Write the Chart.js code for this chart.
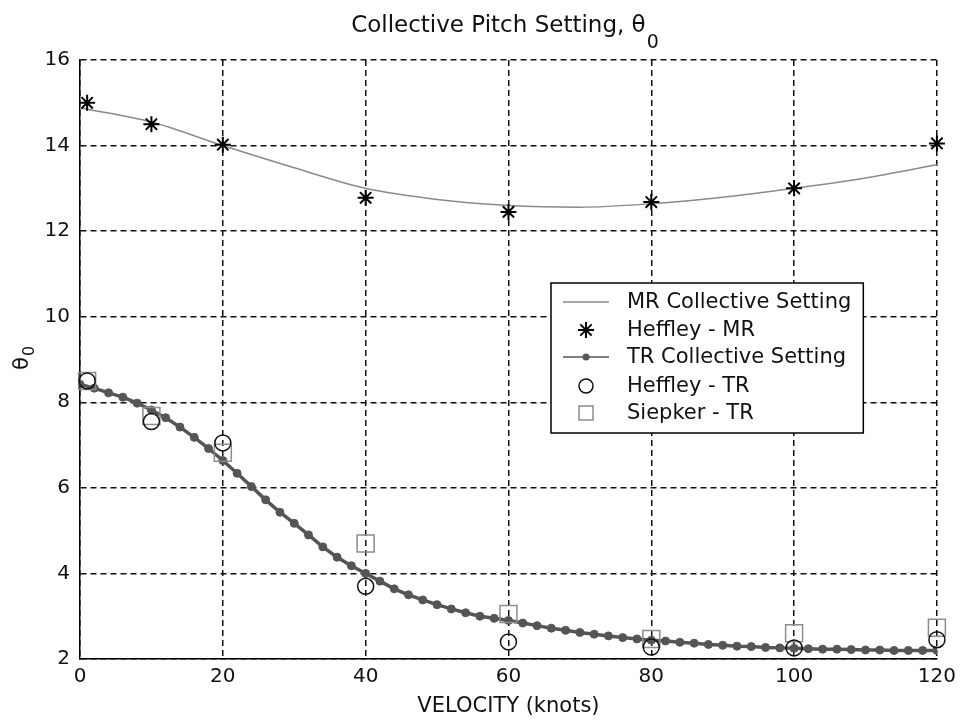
<!DOCTYPE html>
<html>
<head>
<meta charset="utf-8">
<script src="https://cdn.jsdelivr.net/npm/chart.js"></script>
<style>
  html, body { margin: 0; padding: 0; background: #fff; }
  canvas { display: block; }
</style>
</head>
<body>
<canvas id="chart" width="962" height="722"></canvas>
<script>
// main rotor collective curve (thin line)
const mrCurveX = [0, 10, 20, 30, 40, 50, 60, 70, 80, 90, 100, 110, 120];
const mrCurveY = [14.88, 14.55, 14.0, 13.48, 13.0, 12.74, 12.6, 12.56, 12.64, 12.79, 13.0, 13.24, 13.55];

// Heffley main rotor points (stars)
const heffMrX = [1, 10, 20, 40, 60, 80, 100, 120];
const heffMrY = [15.0, 14.5, 14.02, 12.78, 12.45, 12.68, 13.0, 14.05];

// tail rotor collective curve (beaded line)
const trCurveX = [0, 2, 4, 6, 8, 10, 12, 14, 16, 18, 20, 22, 24, 26, 28, 30, 32, 34, 36, 38, 40,
  42, 44, 46, 48, 50, 52, 54, 56, 58, 60, 62, 64, 66, 68, 70, 72, 74, 76, 78, 80,
  82, 84, 86, 88, 90, 92, 94, 96, 98, 100, 102, 104, 106, 108, 110, 112, 114, 116, 118, 120];
const trCurveY = [8.42, 8.33, 8.22, 8.12, 7.98, 7.82, 7.64, 7.42, 7.18, 6.92, 6.64, 6.34, 6.03, 5.72, 5.43, 5.17, 4.9, 4.62, 4.38, 4.18, 4.0,
  3.82, 3.64, 3.5, 3.38, 3.27, 3.17, 3.08, 3.0, 2.95, 2.9, 2.84, 2.78, 2.72, 2.67, 2.62, 2.58, 2.54, 2.5, 2.47, 2.44,
  2.42, 2.39, 2.37, 2.34, 2.32, 2.3, 2.29, 2.27, 2.26, 2.25, 2.24, 2.23, 2.23, 2.22, 2.21, 2.21, 2.2, 2.2, 2.2, 2.2];

// Heffley tail rotor (circles) and Siepker tail rotor (squares)
const heffTrX = [1, 10, 20, 40, 60, 80, 100, 120];
const heffTrY = [8.5, 7.55, 7.05, 3.7, 2.4, 2.28, 2.26, 2.45];
const siepTrX = [1, 10, 20, 40, 60, 80, 100, 120];
const siepTrY = [8.5, 7.68, 6.82, 4.7, 3.05, 2.47, 2.6, 2.73];

const seriesNames = ['MR Collective Setting', 'Heffley - MR', 'TR Collective Setting', 'Heffley - TR', 'Siepker - TR'];

function pts(xs, ys) {
  return xs.map((x, i) => ({x: x, y: ys[i]}));
}

const FONT = 'DejaVu Sans';

function star(ctx, x, y, r) {
  ctx.beginPath();
  ctx.moveTo(x - r, y); ctx.lineTo(x + r, y);
  ctx.moveTo(x, y - r); ctx.lineTo(x, y + r);
  let d = r * 0.7071;
  ctx.moveTo(x - d, y - d); ctx.lineTo(x + d, y + d);
  ctx.moveTo(x - d, y + d); ctx.lineTo(x + d, y - d);
  ctx.stroke();
}

const textPlugin = {
  id: 'texts',
  beforeDraw(chart) {
    let ctx = chart.ctx;
    ctx.save();
    ctx.fillStyle = '#fff';
    ctx.fillRect(0, 0, chart.width, chart.height);
    ctx.restore();
  },
  afterDraw(chart) {
    let ctx = chart.ctx;
    let area = chart.chartArea;
    ctx.save();
    ctx.fillStyle = '#111';

    // title with subscript
    ctx.font = '23px "' + FONT + '"';
    ctx.textBaseline = 'alphabetic';
    ctx.textAlign = 'left';
    let main = 'Collective Pitch Setting, \u03b8';
    let w1 = ctx.measureText(main).width;
    ctx.font = '19px "' + FONT + '"';
    let w2 = ctx.measureText('0').width;
    let tx = (area.left + area.right) / 2 - (w1 + w2) / 2 - 4;
    ctx.font = '23px "' + FONT + '"';
    ctx.fillText(main, tx, 32);
    ctx.font = '19px "' + FONT + '"';
    ctx.fillText('0', tx + w1 + 1, 48);

    // x axis label
    ctx.font = '21px "' + FONT + '"';
    ctx.textAlign = 'center';
    ctx.fillText('VELOCITY (knots)', (area.left + area.right) / 2, 712);

    // y axis label, rotated
    ctx.save();
    ctx.translate(28, (area.top + area.bottom) / 2);
    ctx.rotate(-Math.PI / 2);
    ctx.textAlign = 'left';
    ctx.font = '21px "' + FONT + '"';
    let tw = ctx.measureText('\u03b8').width;
    ctx.fillText('\u03b8', -tw / 2 - 4, 0);
    ctx.font = '16px "' + FONT + '"';
    ctx.fillText('0', tw / 2 - 3, 6);
    ctx.restore();

    // legend box
    ctx.font = '21px "' + FONT + '"';
    let maxw = Math.max(...seriesNames.map(s => ctx.measureText(s).width));
    let bx = 551, by = 283, bh = 150;
    let textX = 627;
    let bw = textX + maxw + 12 - bx;
    ctx.fillStyle = '#fff';
    ctx.fillRect(bx, by, bw, bh);
    ctx.strokeStyle = '#000';
    ctx.lineWidth = 1.5;
    ctx.strokeRect(bx, by, bw, bh);

    let rows = [302, 330, 357, 386, 413];
    let sx1 = 563, sx2 = 609, sc = 586;
    ctx.textAlign = 'left';
    ctx.textBaseline = 'middle';
    for (let i = 0; i < seriesNames.length; i++) {
      let y = rows[i];
      let ds = chart.data.datasets[i];
      ctx.fillStyle = '#111';
      ctx.fillText(seriesNames[i], textX, y + 1);
      ctx.strokeStyle = ds.borderColor;
      ctx.lineWidth = i === 2 ? 1.5 : ds.borderWidth;
      if (i === 0 || i === 2) {
        ctx.beginPath();
        ctx.moveTo(sx1, y); ctx.lineTo(sx2, y);
        ctx.stroke();
      }
      if (i === 1) {
        ctx.lineWidth = ds.borderWidth;
        star(ctx, sc, y, ds.pointRadius);
      } else if (i === 2) {
        ctx.fillStyle = ds.pointBackgroundColor;
        ctx.beginPath();
        ctx.arc(sc, y, 3.5, 0, Math.PI * 2);
        ctx.fill();
      } else if (i === 3) {
        ctx.lineWidth = ds.pointBorderWidth;
        ctx.strokeStyle = ds.pointBorderColor;
        ctx.beginPath();
        ctx.arc(sc, y, 7, 0, Math.PI * 2);
        ctx.stroke();
      } else if (i === 4) {
        ctx.lineWidth = ds.pointBorderWidth;
        ctx.strokeStyle = ds.pointBorderColor;
        ctx.strokeRect(sc - 7, y - 7, 14, 14);
      }
    }
    ctx.restore();
  }
};

const ctx = document.getElementById('chart');
const chart = new Chart(ctx, {
  type: 'scatter',
  data: {
    datasets: [
      {
        label: seriesNames[0],
        data: pts(mrCurveX, mrCurveY),
        showLine: true,
        borderColor: '#8a8a8a',
        borderWidth: 1.5,
        pointRadius: 0,
        cubicInterpolationMode: 'monotone',
        order: 3
      },
      {
        label: seriesNames[1],
        data: pts(heffMrX, heffMrY),
        pointStyle: 'star',
        pointRadius: 8,
        borderColor: '#000',
        borderWidth: 2,
        pointBorderColor: '#000',
        pointBorderWidth: 2,
        clip: false,
        order: 0
      },
      {
        label: seriesNames[2],
        data: pts(trCurveX, trCurveY),
        showLine: true,
        borderColor: '#555',
        borderWidth: 3.5,
        pointRadius: 4,
        pointStyle: 'circle',
        pointBackgroundColor: '#555',
        pointBorderColor: '#555',
        pointBorderWidth: 1,
        order: 2
      },
      {
        label: seriesNames[3],
        data: pts(heffTrX, heffTrY),
        pointStyle: 'circle',
        pointRadius: 8,
        backgroundColor: 'rgba(0,0,0,0)',
        borderColor: '#111',
        borderWidth: 1.5,
        pointBackgroundColor: 'rgba(0,0,0,0)',
        pointBorderColor: '#111',
        pointBorderWidth: 1.5,
        clip: false,
        order: 1
      },
      {
        label: seriesNames[4],
        data: pts(siepTrX, siepTrY),
        pointStyle: 'rect',
        pointRadius: 12,
        backgroundColor: 'rgba(0,0,0,0)',
        borderColor: '#8c8c8c',
        borderWidth: 1.5,
        pointBackgroundColor: 'rgba(0,0,0,0)',
        pointBorderColor: '#8c8c8c',
        pointBorderWidth: 1.5,
        clip: false,
        order: 1
      }
    ]
  },
  options: {
    responsive: false,
    animation: false,
    events: [],
    layout: { padding: { left: 0, top: 60, right: 23, bottom: 0 } },
    plugins: {
      legend: { display: false },
      tooltip: { enabled: false },
      title: { display: false }
    },
    scales: {
      x: {
        type: 'linear',
        min: 0,
        max: 120,
        ticks: {
          stepSize: 20,
          padding: 6,
          color: '#111',
          font: { family: FONT, size: 20 },
          maxRotation: 0
        },
        grid: { color: '#111', lineWidth: 1.5, drawTicks: false },
        border: { display: true, color: '#000', width: 1.5, dash: [6, 4] },
        afterFit: function(s) { s.height = 63; }
      },
      y: {
        type: 'linear',
        min: 2,
        max: 16,
        ticks: {
          stepSize: 2,
          padding: 10,
          color: '#111',
          font: { family: FONT, size: 20 }
        },
        grid: { color: '#111', lineWidth: 1.5, drawTicks: false },
        border: { display: true, color: '#000', width: 1.5, dash: [6, 4] },
        afterFit: function(s) { s.width = 80; }
      }
    }
  },
  plugins: [textPlugin]
});
</script>
</body>
</html>
